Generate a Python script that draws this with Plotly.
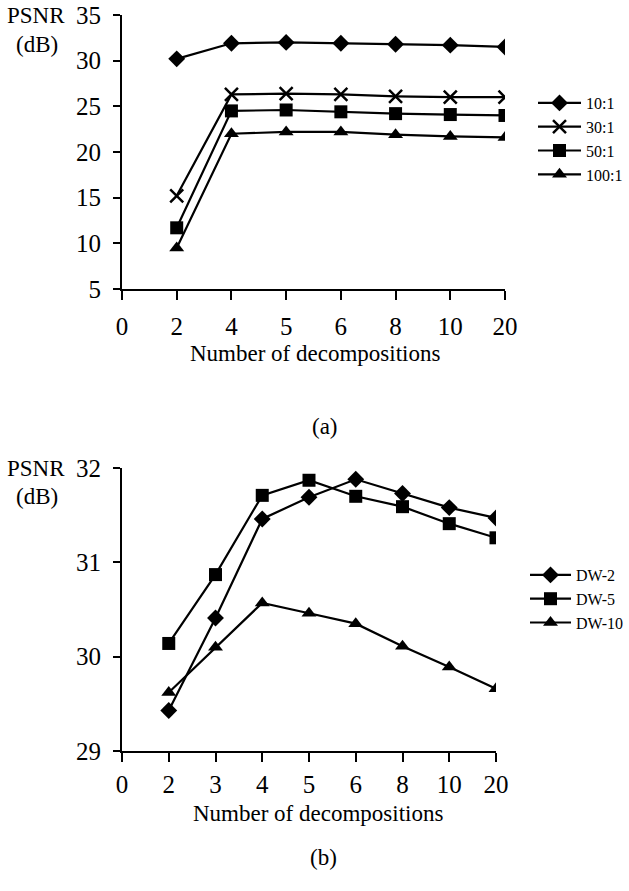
import plotly.graph_objects as go

# ---------------- data ----------------
ticks_a = ["0", "2", "4", "5", "6", "8", "10", "20"]
decomp_a = ["2", "4", "5", "6", "8", "10", "20"]
r10 = [30.2, 31.9, 32.0, 31.9, 31.8, 31.7, 31.5]
r30 = [15.2, 26.3, 26.4, 26.3, 26.1, 26.0, 26.0]
r50 = [11.7, 24.5, 24.6, 24.4, 24.2, 24.1, 24.0]
r100 = [9.5, 22.0, 22.2, 22.2, 21.9, 21.7, 21.6]
names_a = ["10:1", "30:1", "50:1", "100:1"]

ticks_b = ["0", "2", "3", "4", "5", "6", "8", "10", "20"]
decomp_b = ["2", "3", "4", "5", "6", "8", "10", "20"]
dw2 = [29.43, 30.41, 31.46, 31.69, 31.88, 31.73, 31.58, 31.47]
dw5 = [30.14, 30.87, 31.71, 31.87, 31.70, 31.59, 31.41, 31.26]
dw10 = [29.62, 30.10, 30.57, 30.46, 30.35, 30.11, 29.89, 29.66]
names_b = ["DW-2", "DW-5", "DW-10"]

FONT = "Liberation Serif"
W, H = 629, 891

fig = go.Figure()

xa = [ticks_a.index(v) for v in decomp_a]
xb = [ticks_b.index(v) for v in decomp_b]

sym_a = ["diamond", "x-thin", "square", "triangle-up"]
for name, ys, sym in zip(names_a, [r10, r30, r50, r100], sym_a):
    mk = dict(symbol=sym, size=13, color="black",
              line=dict(color="black", width=2.5 if sym == "x-thin" else 0))
    fig.add_trace(go.Scatter(x=xa, y=ys, name=name, mode="lines+markers",
                             line=dict(color="black", width=2.2), marker=mk,
                             xaxis="x", yaxis="y", legend="legend"))

sym_b = ["diamond", "square", "triangle-up"]
for name, ys, sym in zip(names_b, [dw2, dw5, dw10], sym_b):
    fig.add_trace(go.Scatter(x=xb, y=ys, name=name, mode="lines+markers",
                             line=dict(color="black", width=2.2),
                             marker=dict(symbol=sym, size=13, color="black"),
                             xaxis="x2", yaxis="y2", legend="legend2"))


def px_x(p):
    return p / W


def px_y(p):
    return 1 - p / H


axis_common = dict(showgrid=False, zeroline=False, showline=True, linecolor="black", linewidth=2,
                   ticks="outside", tickwidth=2, tickcolor="black", automargin=False,
                   tickfont=dict(family=FONT, size=25, color="black"))
xcommon_a = dict(ticklen=9, ticklabelstandoff=5, **axis_common)
xcommon_b = dict(ticklen=9, ticklabelstandoff=1, **axis_common)
ycommon = dict(ticklen=7, ticklabelstandoff=7, **axis_common)

fig.update_layout(
    width=W, height=H, margin=dict(l=0, r=0, t=0, b=0, autoexpand=False),
    paper_bgcolor="white", plot_bgcolor="white",
    font=dict(family=FONT, color="black"),
    xaxis=dict(domain=[px_x(122), px_x(505)], range=[0, 7], tickvals=list(range(len(ticks_a))),
               ticktext=ticks_a, anchor="y", **xcommon_a),
    yaxis=dict(domain=[px_y(289), px_y(15)], range=[5, 35], dtick=5, anchor="x", **ycommon),
    xaxis2=dict(domain=[px_x(122), px_x(496)], range=[0, 8], tickvals=list(range(len(ticks_b))),
                ticktext=ticks_b, anchor="y2", **xcommon_b),
    yaxis2=dict(domain=[px_y(751), px_y(468)], range=[29, 32], dtick=1, anchor="x2", **ycommon),
    legend=dict(x=px_x(533), y=px_y(86), xanchor="left", yanchor="top", itemwidth=43,
                font=dict(family=FONT, size=16, color="black"), bgcolor="rgba(0,0,0,0)",
                tracegroupgap=0),
    legend2=dict(x=px_x(525), y=px_y(558), xanchor="left", yanchor="top", itemwidth=41,
                 font=dict(family=FONT, size=16, color="black"), bgcolor="rgba(0,0,0,0)",
                 tracegroupgap=0),
    showlegend=True,
)

ann = [
    ("PSNR", 36, 15), ("(dB)", 37, 45),
    ("PSNR", 36, 468), ("(dB)", 37, 496),
    ("Number of decompositions", 315, 353),
    ("Number of decompositions", 318, 813),
    ("(a)", 325, 427), ("(b)", 323, 857),
]
for text, x, y in ann:
    fig.add_annotation(text=text, x=px_x(x), y=px_y(y), xref="paper", yref="paper",
                       showarrow=False, xanchor="center", yanchor="middle",
                       font=dict(family=FONT, size=23, color="black"))

fig.write_html("out.html")
